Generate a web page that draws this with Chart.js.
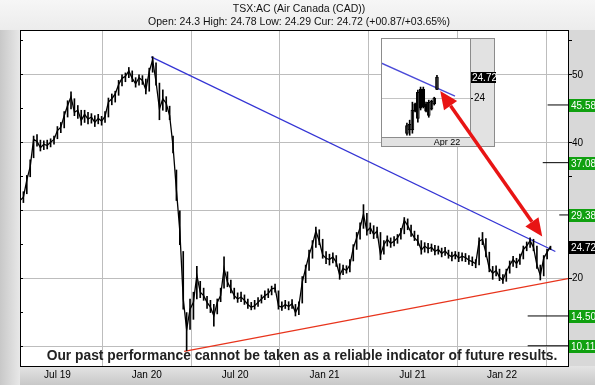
<!DOCTYPE html>
<html>
<head>
<meta charset="utf-8">
<script src="https://cdn.jsdelivr.net/npm/chart.js@4.4.1/dist/chart.umd.min.js"></script>
<style>
  html, body { margin: 0; padding: 0; background: #d6d6d6; }
  #wrap { position: relative; width: 595px; height: 385px; }
  #wrap canvas { position: absolute; left: 0; top: 0; }
</style>
</head>
<body>
<div id="wrap">
  <canvas id="main" width="595" height="385"></canvas>
  <canvas id="inset" width="595" height="385"></canvas>
</div>
<script>
// TSX:AC weekly bars, first bar = week of 2019-04-15
const startDate = '2019-04-15'
const xRange = ['2019-04-15', '2022-05-17']

const weeklyClose = [
  31.5, 32.0, 34.5, 36.5, 40.5, 40.2, 39.3, 39.8, 39.6, 40.1, 40.5, 41.8, 42.3, 44.0, 45.5, 46.8,
  44.5, 44.8, 43.3, 44.2, 43.5, 43.8, 43.0, 43.6, 43.2, 43.9, 46.0, 46.5, 47.2, 48.6, 49.5, 49.8,
  50.6, 49.5, 48.7, 49.6, 49.2, 47.8, 50.5, 52.2, 49.0, 45.0, 46.5, 45.8, 44.0, 39.5, 33.0, 27.0,
  17.0, 12.5, 15.5, 16.5, 20.5, 18.0, 17.5, 16.5, 15.8, 14.5, 16.5, 17.5, 21.5, 19.5, 18.5, 17.5,
  17.0, 17.3, 16.8, 16.2, 15.8, 16.0, 16.5, 17.0, 17.5, 17.8, 18.5, 18.6, 16.0, 15.8, 16.2, 15.9,
  16.3, 15.0, 16.0, 19.5, 21.5, 23.5, 25.0, 27.0, 25.5, 23.5, 23.0, 22.8, 23.2, 22.4, 20.5, 21.5,
  21.2, 22.0, 24.5, 26.0, 27.5, 29.5, 27.0, 27.5, 26.5, 27.0, 23.5, 25.0, 25.8, 25.2, 25.5, 26.0,
  26.8, 28.6, 27.8, 26.8, 26.0, 25.5, 24.2, 24.8, 24.4, 24.6, 24.0, 24.3, 23.7, 24.1, 23.5, 23.2,
  23.6, 23.0, 23.3, 23.1, 22.7, 22.5, 22.2, 25.5, 25.8, 23.8, 21.5, 20.8, 21.2, 20.2, 19.8, 21.0,
  22.0, 22.8, 22.2, 23.0, 24.3, 24.8, 25.6, 24.6, 22.0, 20.5, 23.0, 23.9, 24.72
]
const weeklyHigh = [
  32.2, 32.8, 35.2, 37.5, 41.0, 41.2, 40.4, 40.3, 40.4, 40.6, 41.0, 42.4, 43.0, 44.6, 46.2, 47.5,
  46.5, 45.5, 44.8, 44.8, 44.5, 44.3, 44.0, 44.2, 43.9, 44.6, 46.6, 47.2, 47.6, 49.2, 50.0, 50.3,
  51.1, 50.6, 49.6, 50.0, 49.9, 49.4, 51.0, 52.7, 51.8, 48.8, 47.8, 46.8, 45.4, 41.0, 36.0, 30.0,
  24.0, 15.0, 17.0, 18.0, 21.8, 19.6, 18.6, 17.4, 16.8, 16.2, 17.0, 18.6, 23.2, 21.0, 19.8, 18.6,
  17.9, 18.0, 17.6, 17.0, 16.5, 16.8, 17.2, 17.6, 18.2, 18.5, 18.9, 19.2, 18.2, 16.6, 16.8, 16.6,
  16.9, 16.2, 16.6, 20.3, 22.0, 24.2, 25.6, 27.6, 27.2, 25.8, 24.0, 23.6, 23.8, 23.4, 22.2, 22.0,
  21.9, 22.8, 25.0, 26.8, 28.2, 30.9, 29.6, 28.2, 27.8, 27.6, 26.8, 25.6, 26.3, 26.0, 26.2, 26.5,
  27.4, 29.0, 28.8, 27.9, 27.0, 26.4, 25.6, 25.3, 25.2, 25.1, 24.9, 24.8, 24.5, 24.6, 24.2, 23.9,
  24.0, 23.9, 23.8, 23.7, 23.4, 23.2, 22.8, 26.0, 26.8, 25.9, 23.9, 21.8, 21.9, 21.4, 20.6, 21.4,
  22.6, 23.3, 23.0, 23.6, 24.8, 25.4, 26.0, 25.8, 24.8, 22.0, 23.4, 24.3, 24.78
]
const weeklyLow = [
  30.8, 31.2, 32.5, 35.0, 37.8, 39.5, 38.8, 39.0, 39.1, 39.4, 39.8, 40.6, 41.5, 42.2, 43.8, 45.0,
  44.0, 43.6, 42.6, 43.0, 42.8, 42.9, 42.4, 42.8, 42.6, 43.0, 43.8, 45.6, 46.0, 47.0, 48.4, 49.0,
  49.6, 49.0, 48.2, 48.5, 48.6, 47.2, 47.6, 50.4, 48.5, 43.4, 44.8, 44.6, 43.4, 38.5, 31.5, 25.0,
  15.5, 9.4, 12.5, 14.0, 17.0, 17.2, 16.8, 15.6, 15.0, 13.0, 14.8, 16.6, 18.6, 18.8, 17.9, 17.0,
  16.5, 16.6, 16.2, 15.6, 15.4, 15.5, 15.9, 16.4, 16.9, 17.2, 17.6, 18.0, 15.5, 15.3, 15.6, 15.4,
  15.6, 14.5, 14.7, 16.4, 19.4, 21.2, 23.0, 24.6, 25.0, 23.0, 22.2, 22.0, 22.3, 21.8, 19.9, 20.6,
  20.8, 21.0, 22.6, 24.3, 25.8, 27.4, 26.4, 26.6, 25.9, 26.0, 22.8, 23.6, 24.8, 24.6, 24.8, 25.2,
  25.8, 26.6, 27.2, 26.2, 25.6, 24.9, 23.6, 23.9, 23.8, 24.0, 23.5, 23.6, 23.2, 23.4, 23.0, 22.6,
  22.9, 22.5, 22.6, 22.5, 22.1, 21.9, 21.6, 22.0, 25.0, 23.2, 21.0, 19.9, 20.4, 19.7, 19.3, 19.6,
  20.8, 21.8, 21.6, 22.1, 22.9, 24.1, 24.6, 24.1, 21.5, 19.8, 20.4, 22.9, 24.29
]

const xTickDates = ['2019-07-01', '2020-01-01', '2020-07-01', '2021-01-01', '2021-07-01', '2022-01-01']
const xTickLabels = ['Jul 19', 'Jan 20', 'Jul 20', 'Jan 21', 'Jul 21', 'Jan 22']
const yRange = [7.13, 56.62]
const yTickValues = [10, 15, 20, 25, 30, 35, 40, 45, 50, 55]

const downTrend = [['2020-01-10', 52.65], ['2022-04-21', 24.0]]
const upTrend = [['2020-03-18', 9.3], ['2022-05-17', 20.0]]
const targetLevels = [45.58, 37.08, 29.38, 14.50, 10.11]
const targetFrom = ['2022-04-05', '2022-03-26', '2022-04-29', '2022-02-23', '2022-02-23']
const lastPrice = 24.72
const arrowEnds = [['2021-08-27', 47.65], ['2022-03-25', 26.2]]

// inset: last daily candles
const insetOpen  = [22.78, 22.90, 22.90, 23.80, 23.30, 24.30, 24.30, 23.80, 23.40, 23.62, 23.80, 24.30]
const insetHigh  = [23.14, 23.24, 23.86, 23.83, 24.28, 24.38, 24.38, 23.86, 23.93, 23.93, 24.03, 24.78]
const insetLow   = [22.72, 22.72, 22.79, 23.52, 23.17, 23.59, 23.66, 23.52, 23.34, 23.59, 23.76, 24.29]
const insetClose = [23.05, 23.10, 23.59, 23.55, 24.20, 23.65, 23.70, 23.55, 23.85, 23.90, 24.00, 24.72]
const insetRange = [-9.5, 23.1]
const insetYRange = [22.66, 26.07]
const insetTrend = [[-9.5, 25.21], [17.6, 24.07]]
const insetTickAt = 14.7
const insetTickLabel = 'Apr 22'

const FONT = 'Liberation Sans, Arial, sans-serif'
Chart.defaults.font.family = FONT
Chart.defaults.animation = false

const toDay = d => (Date.parse(d) - Date.parse(startDate)) / 86400000

const priceLine = weeklyClose.map((v, i) => ({ x: i * 7, y: v }))
const priceBars = weeklyHigh.map((h, i) => ({ x: i * 7, y: [weeklyLow[i], h] }))
const seg = pts => pts.map(p => ({ x: toDay(p[0]), y: p[1] }))

const targetSets = targetLevels.map((lv, i) => ({
  type: 'line',
  data: [{ x: toDay(targetFrom[i]), y: lv }, { x: toDay(xRange[1]), y: lv }],
  borderColor: '#000', borderWidth: 1, pointRadius: 0
}))

const frame = {
  id: 'frame',
  beforeDraw(chart) {
    const { ctx, chartArea: a, width: w, height: h } = chart
    ctx.save()
    ctx.fillStyle = '#d6d6d6'
    ctx.fillRect(0, 0, w, h)
    let g = ctx.createLinearGradient(0, 0, 0, a.top)
    g.addColorStop(0, '#f6f6f6'); g.addColorStop(1, '#ececec')
    ctx.fillStyle = g
    ctx.fillRect(0, 0, w, a.top)
    g = ctx.createLinearGradient(0, 0, a.left, 0)
    g.addColorStop(0, '#c8c8c8'); g.addColorStop(1, '#e8e8e8')
    ctx.fillStyle = g
    ctx.fillRect(0, a.top, a.left, h - a.top)
    g = ctx.createLinearGradient(0, a.bottom, 0, h)
    g.addColorStop(0, '#e4e4e4'); g.addColorStop(1, '#c8c8c8')
    ctx.fillStyle = g
    ctx.fillRect(a.left, a.bottom, w - a.left, h - a.bottom)
    ctx.fillStyle = '#d8d8d8'
    ctx.fillRect(a.right, a.top, w - a.right, a.bottom - a.top)
    ctx.fillStyle = '#fff'
    ctx.fillRect(a.left, a.top, a.right - a.left, a.bottom - a.top)
    ctx.restore()
  },
  afterDatasetsDraw(chart) {
    const { ctx } = chart
    ctx.save()
    ctx.font = 'bold 13.8px ' + FONT
    ctx.fillStyle = '#222'
    ctx.textAlign = 'center'
    ctx.textBaseline = 'middle'
    ctx.fillText('Our past performance cannot be taken as a reliable indicator of future results.', 302, 356)
    ctx.restore()
  },
  afterDraw(chart) {
    const { ctx, chartArea: a, width: w } = chart
    const ys = chart.scales.y
    ctx.save()
    ctx.strokeStyle = '#000'
    ctx.lineWidth = 1
    ctx.strokeRect(a.left + 0.5, a.top + 0.5, a.right - a.left, a.bottom - a.top)
    ctx.font = '10px ' + FONT
    ctx.textBaseline = 'middle'
    ctx.textAlign = 'left'
    const box = (v, bg) => {
      const y = Math.round(ys.getPixelForValue(v))
      ctx.fillStyle = bg
      ctx.fillRect(a.right + 1, y - 6, w - a.right, 13)
      ctx.fillStyle = '#fff'
      ctx.fillText(v.toFixed(2), a.right + 3, y + 1)
    }
    targetLevels.forEach(v => box(v, '#10a010'))
    box(lastPrice, '#000')
    ctx.fillStyle = '#111'
    ctx.textAlign = 'center'
    ctx.font = '10.5px ' + FONT
    ctx.fillText('TSX:AC (Air Canada (CAD))', 299, 9)
    ctx.fillText('Open: 24.3 High: 24.78 Low: 24.29 Cur: 24.72 (+00.87/+03.65%)', 299, 22)
    ctx.restore()
  }
}

const mainChart = new Chart(document.getElementById('main'), {
  type: 'line',
  data: {
    datasets: [
      { type: 'bar', data: priceBars, backgroundColor: '#000', barThickness: 1, grouped: false },
      { data: priceLine, borderColor: '#000', borderWidth: 1.3, pointRadius: 0 },
      { data: seg(downTrend), borderColor: '#3434d4', borderWidth: 1.3, pointRadius: 0 },
      { data: seg(upTrend), borderColor: '#e8341c', borderWidth: 1.3, pointRadius: 0 },
      ...targetSets
    ]
  },
  options: {
    responsive: false,
    layout: { padding: { left: 20, top: 30, right: 0, bottom: 0 } },
    plugins: { legend: { display: false }, tooltip: { enabled: false } },
    scales: {
      x: {
        type: 'linear',
        offset: false,
        min: toDay(xRange[0]),
        max: toDay(xRange[1]),
        afterBuildTicks: s => { s.ticks = xTickDates.map(d => ({ value: toDay(d) })) },
        afterFit: s => { s.height = 19 },
        ticks: {
          autoSkip: false, maxRotation: 0, padding: 3,
          color: '#000', font: { size: 10 },
          callback: (v, i) => xTickLabels[i]
        },
        grid: { color: '#bdbdbd', drawTicks: false },
        border: { display: false }
      },
      y: {
        position: 'right',
        min: yRange[0],
        max: yRange[1],
        afterBuildTicks: s => { s.ticks = yTickValues.map(v => ({ value: v })) },
        afterFit: s => { s.width = 27 },
        ticks: {
          padding: 0, color: '#000', font: { size: 10 },
          callback: v => (v % 10 === 0 && ![...targetLevels, lastPrice].some(l => Math.abs(l - v) < 1.2)) ? String(v) : ''
        },
        grid: {
          color: c => (c.tick && c.tick.value % 10 === 0) ? '#bdbdbd' : 'rgba(0,0,0,0)',
          tickColor: '#000', tickLength: 4
        },
        border: { display: false }
      },
      yl: {
        position: 'left',
        min: yRange[0],
        max: yRange[1],
        afterBuildTicks: s => { s.ticks = yTickValues.map(v => ({ value: v })) },
        afterFit: s => { s.width = 0 },
        ticks: { display: false },
        grid: { drawOnChartArea: false, tickColor: '#000', tickLength: -3 },
        border: { display: false }
      }
    }
  },
  plugins: [frame]
})

const insetCandles = insetOpen.map((o, i) => ({ x: i, y: [o, insetClose[i]] }))
const insetWicks = insetHigh.map((h, i) => ({ x: i, y: [insetLow[i], h] }))

const insetFrame = {
  id: 'insetFrame',
  beforeDraw(chart) {
    const { ctx, chartArea: a } = chart
    ctx.save()
    ctx.fillStyle = '#e2e2e2'
    ctx.fillRect(a.left, a.top, 114, 109)
    ctx.fillStyle = '#fff'
    ctx.fillRect(a.left, a.top, a.right - a.left, a.bottom - a.top)
    ctx.restore()
  },
  afterDraw(chart) {
    const { ctx, chartArea: a } = chart
    const ys = chart.scales.y
    ctx.save()
    ctx.strokeStyle = '#8c8c8c'
    ctx.lineWidth = 1
    ctx.strokeRect(a.left + 0.5, a.top + 0.5, 113, 108)
    ctx.beginPath()
    ctx.moveTo(a.left, a.bottom + 0.5); ctx.lineTo(a.right, a.bottom + 0.5)
    ctx.moveTo(a.right + 0.5, a.top); ctx.lineTo(a.right + 0.5, a.bottom)
    ctx.stroke()
    const y = Math.round(ys.getPixelForValue(lastPrice))
    ctx.fillStyle = '#000'
    ctx.fillRect(a.right + 1, y - 5, 25, 11)
    ctx.fillStyle = '#fff'
    ctx.font = '10px ' + FONT
    ctx.textBaseline = 'middle'
    ctx.fillText(lastPrice.toFixed(2), a.right + 2, y + 1)

    // red double-headed arrow, in main chart coordinates
    const mx = mainChart.scales.x, my = mainChart.scales.y
    const p = arrowEnds.map(e => [mx.getPixelForValue(toDay(e[0])), my.getPixelForValue(e[1])])
    const ang = Math.atan2(p[1][1] - p[0][1], p[1][0] - p[0][0])
    const L = 18, W = 8
    ctx.strokeStyle = '#e81414'
    ctx.fillStyle = '#e81414'
    ctx.lineWidth = 3.5
    ctx.beginPath()
    ctx.moveTo(p[0][0] + Math.cos(ang) * L, p[0][1] + Math.sin(ang) * L)
    ctx.lineTo(p[1][0] - Math.cos(ang) * L, p[1][1] - Math.sin(ang) * L)
    ctx.stroke()
    const head = (tip, dir) => {
      const bx = tip[0] - Math.cos(dir) * L, by = tip[1] - Math.sin(dir) * L
      ctx.beginPath()
      ctx.moveTo(tip[0], tip[1])
      ctx.lineTo(bx + Math.sin(dir) * W, by - Math.cos(dir) * W)
      ctx.lineTo(bx - Math.sin(dir) * W, by + Math.cos(dir) * W)
      ctx.closePath()
      ctx.fill()
    }
    head(p[1], ang)
    head(p[0], ang + Math.PI)
    ctx.restore()
  }
}

new Chart(document.getElementById('inset'), {
  type: 'bar',
  data: {
    datasets: [
      { data: insetWicks, backgroundColor: '#000', barThickness: 1, grouped: false },
      {
        data: insetCandles, grouped: false, barThickness: 3,
        backgroundColor: insetOpen.map((o, i) => insetClose[i] >= o ? '#fff' : '#000'),
        borderColor: '#000', borderWidth: 1, borderSkipped: false
      },
      {
        type: 'line', data: insetTrend.map(p => ({ x: p[0], y: p[1] })),
        borderColor: '#4a4ad8', borderWidth: 1.3, pointRadius: 0
      }
    ]
  },
  options: {
    responsive: false,
    layout: { padding: { left: 381, top: 38, right: 100, bottom: 238 } },
    plugins: { legend: { display: false }, tooltip: { enabled: false } },
    scales: {
      x: {
        type: 'linear', offset: false,
        min: insetRange[0], max: insetRange[1],
        afterBuildTicks: s => { s.ticks = [{ value: insetTickAt }] },
        afterFit: s => { s.height = 10 },
        ticks: { autoSkip: false, maxRotation: 0, padding: 0, color: '#000', font: { size: 9 }, callback: () => insetTickLabel },
        grid: { color: '#c4c4c4', drawTicks: false },
        border: { display: false }
      },
      y: {
        position: 'right',
        min: insetYRange[0], max: insetYRange[1],
        afterBuildTicks: s => { s.ticks = [{ value: 24 }] },
        afterFit: s => { s.width = 25 },
        ticks: { padding: 1, color: '#000', font: { size: 10 } },
        grid: { color: '#c4c4c4', tickColor: '#000', tickLength: 3 },
        border: { display: false }
      }
    }
  },
  plugins: [insetFrame]
})
</script>
</body>
</html>
